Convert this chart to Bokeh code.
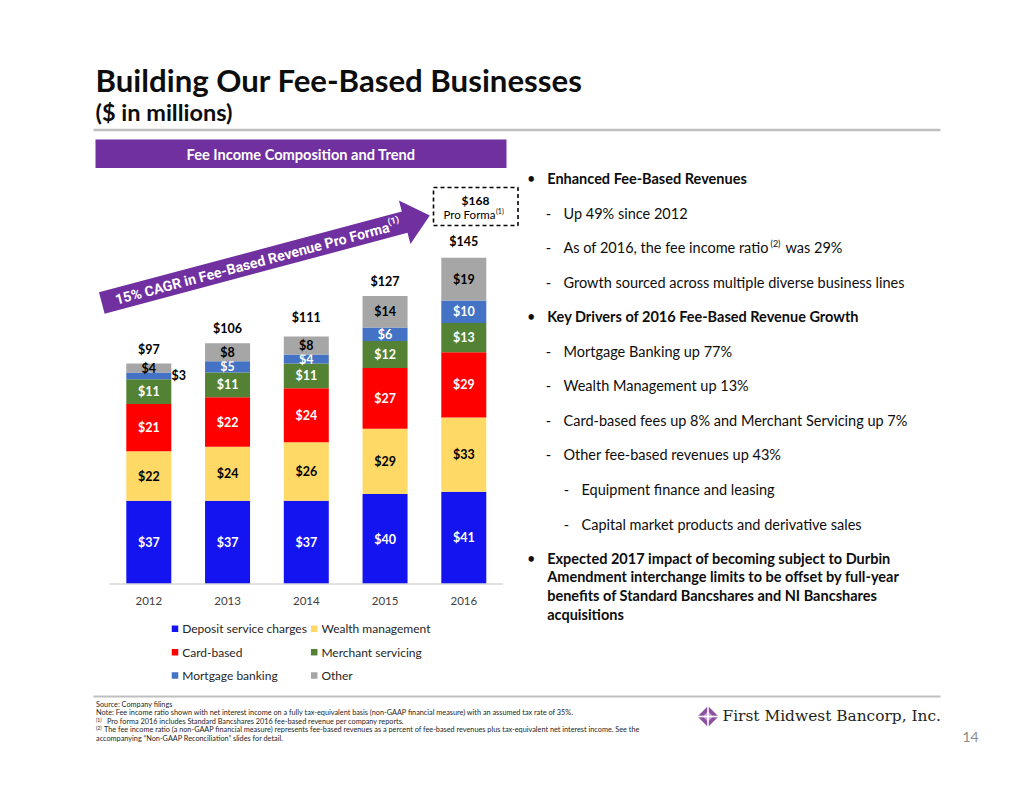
import numpy as np
from bokeh.plotting import figure
from bokeh.models import Range1d
from bokeh.core.properties import value
from bokeh.embed import file_html
from bokeh.resources import INLINE

# ---------------- data ----------------
years = ["2012", "2013", "2014", "2015", "2016"]
series_names = ["Deposit service charges", "Wealth management", "Card-based",
                "Merchant servicing", "Mortgage banking", "Other"]
deposit = [37, 37, 37, 40, 41]
wealth = [22, 24, 26, 29, 33]
card = [21, 22, 24, 27, 29]
merchant = [11, 11, 11, 12, 13]
mortgage = [3, 5, 4, 6, 10]
other = [4, 8, 8, 14, 19]
totals = [97, 106, 111, 127, 145]
pro_forma_2016 = 168
series_colors = ["#1414F0", "#FFD966", "#FF0000", "#548235", "#4472C4", "#A6A6A6"]
label_colors = ["white", "black", "white", "white", "white", "black"]

bullets = [
    (0, "Enhanced Fee-Based Revenues", True),
    (1, "Up 49% since 2012", False),
    (1, None, False),  # ratio line with superscript
    (1, "Growth sourced across multiple diverse business lines", False),
    (0, "Key Drivers of 2016 Fee-Based Revenue Growth", True),
    (1, "Mortgage Banking up 77%", False),
    (1, "Wealth Management up 13%", False),
    (1, "Card-based fees up 8% and Merchant Servicing up 7%", False),
    (1, "Other fee-based revenues up 43%", False),
    (2, "Equipment finance and leasing", False),
    (2, "Capital market products and derivative sales", False),
]
last_bullet = ["Expected 2017 impact of becoming subject to Durbin",
               "Amendment interchange limits to be offset by full-year",
               "benefits of Standard Bancshares and NI Bancshares",
               "acquisitions"]

FONT = "Lato"
ARROW_FONT = "Roboto"

# ---------------- figure ----------------
W, H = 1018, 783
p = figure(width=W, height=H, x_range=Range1d(0, W), y_range=Range1d(H, 0),
           output_backend="svg", toolbar_location=None,
           x_axis_location=None, y_axis_location=None, min_border=0,
           outline_line_color=None, background_fill_color="white",
           border_fill_color="white")
p.grid.visible = False

# chart scales (index -> pixel, value -> pixel)
x0_px, step_px = 148.3, 78.75
base_px, unit_px = 583.5, 2.25
p.extra_x_ranges = {"yr": Range1d((0 - x0_px) / step_px, (W - x0_px) / step_px)}
p.extra_y_ranges = {"val": Range1d(-(H - base_px) / unit_px, base_px / unit_px)}


def txt(x, y, s, size, color="#0D0D0D", bold=False, align="left", baseline="middle",
        font=FONT, angle=0.0, xr="default", yr="default"):
    p.text(x=[x], y=[y], text=[s], text_font=value(font), text_font_size=f"{size}px",
           text_color=color, text_font_style="bold" if bold else "normal",
           text_align=align, text_baseline=baseline, angle=angle,
           x_range_name=xr, y_range_name=yr)


# ---------------- title ----------------
txt(95, 79.5, "Building Our Fee-Based Businesses", 31.2, bold=True, baseline="alphabetic")
txt(95, 111.5, "($ in millions)", 23.5, bold=True, baseline="alphabetic")
p.segment(x0=[93], x1=[940], y0=[129.5], y1=[129.5], line_color="#BFBFBF", line_width=2.5)

# header box
p.quad(left=[95], right=[506], top=[139], bottom=[167.5], fill_color="#7030A0", line_color=None)
txt(300.5, 153.5, "Fee Income Composition and Trend", 14.6, color="white", bold=True, align="center")

# ---------------- arrow ----------------
T = np.array([101.3, 302.5])
P = np.array([429.3, 215.0])
u = (P - T) / np.linalg.norm(P - T)
n = np.array([-u[1], u[0]])
Bh = P - 26 * u
pts = [T - 11 * n, Bh - 11 * n, Bh - 22.5 * n, P, Bh + 22.5 * n, Bh + 11 * n, T + 11 * n]
p.patch(x=[q[0] for q in pts], y=[q[1] for q in pts], fill_color="#7030A0", line_color=None)
ang = np.arctan2(-(P - T)[1], (P - T)[0])
s0 = T + 14 * u + 0.5 * n
txt(s0[0], s0[1], "15% CAGR in Fee-Based Revenue Pro Forma", 14.2, color="white", bold=True,
    align="left", font=ARROW_FONT, angle=ang)
s1 = T + 297 * u - 4.5 * n
txt(s1[0], s1[1], "(1)", 9, color="white", bold=True, align="left", font=ARROW_FONT, angle=ang)

# ---------------- bars ----------------
idx = np.arange(len(years))
stack = [deposit, wealth, card, merchant, mortgage, other]
bottom = np.zeros(len(years))
bar_w = 45 / step_px
for vals, col, lc in zip(stack, series_colors, label_colors):
    vals = np.array(vals, dtype=float)
    top = bottom + vals
    p.vbar(x=idx, bottom=bottom, top=top, width=bar_w, fill_color=col, line_color=None,
           x_range_name="yr", y_range_name="val")
    for i, v in enumerate(vals):
        if v < 4:
            txt(idx[i] + 0.38, (bottom[i] + top[i]) / 2, f"${int(v)}", 12.5, color="black",
                bold=True, align="center", xr="yr", yr="val")
        else:
            txt(idx[i], (bottom[i] + top[i]) / 2, f"${int(v)}", 12.5, color=lc,
                bold=True, align="center", xr="yr", yr="val")
    bottom = top

for i, t in enumerate(totals):
    txt(idx[i], t + 7.4, f"${t}", 12.5, color="black", bold=True, align="center", xr="yr", yr="val")

p.segment(x0=[-0.5], x1=[4.5], y0=[0], y1=[0], line_color="#D9D9D9", line_width=1.5,
          x_range_name="yr", y_range_name="val")
for i, yv in enumerate(years):
    txt(idx[i], 600, yv, 11.5, color="#404040", align="center", xr="yr")

# pro forma box
p.quad(left=[433], right=[517.5], top=[187], bottom=[225], fill_color=None,
       line_color="black", line_width=1.6, line_dash="4 3")
txt(475, 199.5, f"${pro_forma_2016}", 12, color="black", bold=True, align="center")
txt(495, 213.5, "Pro Forma", 11.5, color="black", align="right")
txt(495.5, 210, "(1)", 7, color="black", align="left")

# legend
leg_x = [174.5, 313.7]
leg_y = [628.3, 651.7, 675.0]
for k, (name, col) in enumerate(zip(series_names, series_colors)):
    cx = leg_x[k % 2]
    cy = leg_y[k // 2]
    p.rect(x=[cx], y=[cy], width=6.5, height=6.5, fill_color=col, line_color=None)
    txt(cx + 7.2, cy, name, 12, color="#262626")

# ---------------- bullets ----------------
ys = [178 + 34.55 * k for k in range(len(bullets))]
for (lvl, s, bold), y in zip(bullets, ys):
    if lvl == 0:
        txt(530.7, y, "\u2022", 14.5, color="#0D0D0D", align="center")
        txt(546.7, y, s, 14.5, bold=True)
    else:
        dx = 0 if lvl == 1 else 18
        txt(548 + dx, y, "-", 14.5, align="center")
        if s is None:
            txt(563, y, "As of 2016, the fee income ratio", 14.5)
            txt(770, y - 4, "(2)", 9)
            txt(785, y, "was 29%", 14.5)
        else:
            txt(563 + dx, y, s, 14.5)
y_last = [557.5, 576.3, 595.1, 613.9]
txt(530.7, y_last[0], "\u2022", 14.5, align="center")
for s, y in zip(last_bullet, y_last):
    txt(546.7, y, s, 14.5, bold=True)

# ---------------- footer ----------------
p.segment(x0=[93], x1=[940], y0=[696], y1=[696], line_color="#BFBFBF", line_width=2)
fc = "#262626"
txt(95.5, 704, "Source: Company filings", 7.3, color=fc)
txt(95.5, 712.3, "Note: Fee income ratio shown with net interest income on a fully tax-equivalent basis "
    "(non-GAAP financial measure) with an assumed tax rate of 35%.", 7.3, color=fc)
txt(95.5, 719.3, "(1)", 5, color=fc)
txt(106.5, 720.7, "Pro forma 2016 includes Standard Bancshares 2016 fee-based revenue per company reports.",
    7.3, color=fc)
txt(95.5, 727.9, "(2)", 5, color=fc)
txt(103.5, 729.3, "The fee income ratio (a non-GAAP financial measure) represents fee-based revenues as a "
    "percent of fee-based revenues plus tax-equivalent net interest income. See the", 7.3, color=fc)
txt(95.5, 737.7, "accompanying \u201cNon-GAAP Reconciliation\u201d slides for detail.", 7.3, color=fc)

# logo
cxl, cyl, r = 707.5, 716.0, 10.5
p.patch(x=[cxl, cxl + r, cxl, cxl - r], y=[cyl - r, cyl, cyl + r, cyl],
        fill_color="#8A4FA0", line_color=None)
p.patch(x=[cxl, cxl + r * 0.5, cxl, cxl - r * 0.5], y=[cyl - r * 0.5, cyl, cyl + r * 0.5, cyl],
        fill_color="#C9A6D6", line_color=None)
p.segment(x0=[cxl - r, cxl], x1=[cxl + r, cxl], y0=[cyl, cyl - r], y1=[cyl, cyl + r],
          line_color="white", line_width=1.6)
txt(722, 715.5, "First Midwest Bancorp, Inc.", 15.4, color="#231F20", font="DejaVu Serif")
txt(970, 736.5, "14", 14, color="#8C8C8C", align="center")

open("out.html", "w").write(file_html(p, INLINE))
